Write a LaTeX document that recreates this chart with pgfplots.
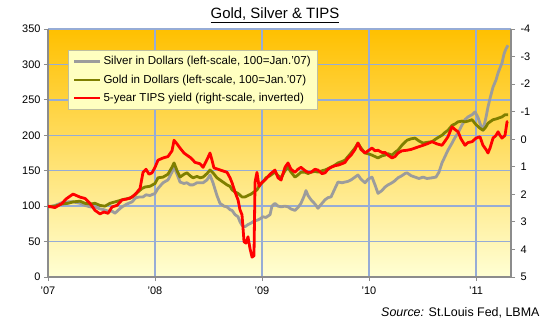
\documentclass[border=0pt]{standalone}
\usepackage{fontspec}
\setmainfont{Liberation Sans}
\usepackage{pgfplots}
\pgfplotsset{compat=1.18}
\definecolor{silv}{HTML}{9C9C9C}
\definecolor{gld}{HTML}{7F7F00}
\definecolor{tipsred}{HTML}{FF0000}
\definecolor{gridc}{HTML}{96ACD6}
\definecolor{axc}{HTML}{8C8C8C}
\definecolor{legf}{HTML}{FFFFC0}
\definecolor{bgtop}{HTML}{FFC000}
\definecolor{bgmid}{HTML}{F7EE00}
\definecolor{bgbot}{HTML}{FFFFD4}
\begin{document}
\begin{tikzpicture}
\path[use as bounding box] (-48bp,-48bp) rectangle (502bp,277bp);
\shade[top color=bgtop, middle color=bgmid, bottom color=bgbot] (0bp,0bp) rectangle (463bp,248bp);
\draw[gridc, line width=1.4bp] (107bp,0bp) -- (107bp,248bp) (214bp,0bp) -- (214bp,248bp) (321bp,0bp) -- (321bp,248bp) (428bp,0bp) -- (428bp,248bp);
\draw[gridc, line width=1.4bp] (0bp,35.43bp) -- (463bp,35.43bp) (0bp,70.86bp) -- (463bp,70.86bp) (0bp,106.29bp) -- (463bp,106.29bp) (0bp,141.71bp) -- (463bp,141.71bp) (0bp,177.14bp) -- (463bp,177.14bp) (0bp,212.57bp) -- (463bp,212.57bp) (0bp,248bp) -- (463bp,248bp);
\begin{axis}[
  at={(0,0)}, anchor=south west,
  scale only axis, width=463bp, height=248bp,
  xmin=0, xmax=4.327, ymin=0, ymax=350,
  xtick={0,1,2,3,4}, xticklabels={'07,'08,'09,'10,'11},
  ytick={0,50,...,350},
  axis x line*=bottom, axis y line*=left,
  axis line style={axc, line width=1.2bp, -},
  tick style={axc, line width=0.8bp},
  tick align=outside, major tick length=4bp,
  tick label style={font=\fontsize{11}{13}\selectfont},
  /pgf/number format/assume math mode=true,
  xticklabel style={yshift=-2bp},
  clip=true,
]
\addplot[silv, line width=2.8bp, line join=round] coordinates {
(0,99)(0.065,101)(0.131,105)(0.187,106)(0.234,106)(0.299,104)(0.346,101)(0.393,99)(0.439,99)(0.486,96)(0.523,95)(0.561,93)(0.598,93)(0.626,90)(0.654,94)(0.692,99)(0.738,103)(0.785,106)(0.822,112)(0.860,113)(0.888,113)(0.916,116)(0.953,115)
(1.000,118)(1.028,125)(1.075,133)(1.121,137)(1.159,148)(1.178,155)(1.206,145)(1.234,134)(1.271,132)(1.299,133)(1.327,130)(1.355,130)(1.393,133)(1.421,133)(1.449,133)(1.486,137)(1.514,144)(1.542,133)(1.579,115)(1.607,104)(1.645,100)(1.673,99)(1.701,95)(1.720,94)(1.748,88)(1.776,85)(1.794,78)(1.813,73)(1.841,71)(1.869,74)(1.897,76)(1.925,79)(1.953,80)(1.981,82)
(2.009,85)(2.037,84)(2.075,88)(2.093,100)(2.121,104)(2.150,100)(2.178,99)(2.215,100)(2.243,99)(2.271,96)(2.308,94)(2.336,98)(2.364,104)(2.393,114)(2.411,122)(2.430,115)(2.458,109)(2.495,103)(2.523,97)(2.561,104)(2.589,109)(2.617,112)(2.645,113)(2.682,125)(2.710,134)(2.748,133)(2.776,134)(2.804,135)(2.832,137)(2.869,141)(2.897,144)(2.925,138)(2.963,133)(2.991,138)
(3.028,141)(3.056,130)(3.084,118)(3.121,122)(3.150,127)(3.178,130)(3.215,133)(3.243,136)(3.271,140)(3.308,143)(3.336,146)(3.355,147)(3.393,143)(3.430,141)(3.467,139)(3.505,141)(3.542,139)(3.589,140)(3.626,141)(3.654,148)(3.682,161)(3.710,170)(3.738,179)(3.776,189)(3.804,197)(3.832,203)(3.860,212)(3.897,222)(3.925,226)(3.963,229)(3.991,233)
(4.019,225)(4.037,217)(4.065,207)(4.093,225)(4.112,240)(4.131,252)(4.159,268)(4.187,278)(4.206,288)(4.224,295)(4.243,302)(4.262,315)(4.280,322)(4.299,327)
};
\addplot[gld, line width=2.8bp, line join=round] coordinates {
(0,99)(0.065,100)(0.131,103)(0.187,104)(0.234,106)(0.299,107)(0.346,104)(0.393,103)(0.439,104)(0.486,101)(0.533,100)(0.579,104)(0.626,106)(0.673,108)(0.720,110)(0.766,111)(0.813,116)(0.841,120)(0.879,125)(0.907,127)(0.953,128)
(1.000,132)(1.028,140)(1.075,141)(1.121,145)(1.159,155)(1.178,161)(1.206,150)(1.234,141)(1.271,145)(1.299,147)(1.327,143)(1.355,140)(1.393,142)(1.421,140)(1.449,141)(1.486,146)(1.514,151)(1.542,147)(1.579,140)(1.607,137)(1.645,133)(1.673,130)(1.701,128)(1.720,123)(1.748,120)(1.776,118)(1.813,113)(1.841,113)(1.869,115)(1.897,117)(1.925,120)(1.953,123)(1.981,130)
(2.009,134)(2.037,140)(2.075,143)(2.121,148)(2.150,143)(2.178,140)(2.215,150)(2.243,155)(2.271,148)(2.308,141)(2.336,144)(2.364,148)(2.402,148)(2.430,146)(2.458,148)(2.495,149)(2.523,148)(2.561,150)(2.589,151)(2.617,153)(2.645,155)(2.682,158)(2.710,161)(2.748,163)(2.776,165)(2.804,170)(2.832,175)(2.869,182)(2.897,189)(2.925,182)(2.963,175)(2.991,174)
(3.028,172)(3.056,170)(3.084,168)(3.121,171)(3.150,172)(3.178,174)(3.215,172)(3.243,176)(3.271,179)(3.308,186)(3.355,193)(3.393,195)(3.430,196)(3.467,192)(3.505,189)(3.542,190)(3.589,191)(3.636,196)(3.682,200)(3.710,204)(3.738,207)(3.776,214)(3.804,216)(3.832,219)(3.869,220)(3.897,219)(3.925,220)(3.963,222)
(4.000,215)(4.037,210)(4.065,207)(4.093,212)(4.112,217)(4.131,219)(4.159,222)(4.187,223)(4.206,224)(4.243,226)(4.271,229)(4.299,229)
};
\end{axis}
\begin{axis}[
  at={(0,0)}, anchor=south west,
  scale only axis, width=463bp, height=248bp,
  xmin=0, xmax=4.327, ymin=-4, ymax=5, y dir=reverse,
  axis x line=none, axis y line*=right,
  axis line style={axc, line width=1.2bp, -},
  ytick={-4,-3,...,5},
  tick style={axc, line width=0.8bp},
  tick align=outside, major tick length=4bp,
  tick label style={font=\fontsize{11}{13}\selectfont},
  /pgf/number format/assume math mode=true,
  yticklabel style={xshift=2bp},
  legend style={at={(rel axis cs:0.043,0.915)}, anchor=north west, fill=legf, draw={rgb,255:red,190;green,190;blue,160}, line width=0.8bp, font=\fontsize{11.6}{13}\selectfont, inner xsep=5bp, inner ysep=4bp, row sep=4.5bp},
  legend cell align=left,
  legend image code/.code={\draw[#1, line width=2.2bp] (0bp,0bp) -- (26bp,0bp);},
  clip=true,
]
\addlegendimage{silv}
\addlegendentry{Silver in Dollars (left-scale, 100=Jan.'07)}
\addlegendimage{gld}
\addlegendentry{Gold in Dollars (left-scale, 100=Jan.'07)}
\addplot[tipsred, line width=2.8bp, line join=round] coordinates {
(0,2.43)(0.065,2.48)(0.131,2.33)(0.168,2.17)(0.234,1.99)(0.299,2.10)(0.346,2.15)(0.393,2.33)(0.439,2.58)(0.486,2.71)(0.523,2.64)(0.561,2.69)(0.598,2.46)(0.645,2.40)(0.692,2.20)(0.738,2.17)(0.785,2.10)(0.822,1.97)(0.860,1.79)(0.888,1.20)(0.916,1.09)(0.944,1.27)(0.972,1.22)
(1.000,1.02)(1.028,0.76)(1.075,0.68)(1.121,0.63)(1.159,0.42)(1.178,0.04)(1.206,0.17)(1.234,0.32)(1.271,0.50)(1.299,0.58)(1.336,0.68)(1.374,0.84)(1.421,0.89)(1.449,1.02)(1.477,0.81)(1.505,0.58)(1.514,0.50)(1.533,0.76)(1.551,1.04)(1.589,1.09)(1.626,1.14)(1.673,1.20)(1.701,1.40)(1.720,1.58)(1.748,1.92)(1.776,2.20)(1.794,2.56)(1.813,2.74)(1.822,3.20)(1.832,3.72)(1.850,3.77)(1.869,3.54)(1.888,3.97)(1.907,4.28)(1.925,4.23)(1.935,1.56)(1.953,1.20)(1.972,1.71)
(2.000,1.56)(2.028,1.48)(2.075,1.27)(2.121,1.12)(2.150,1.40)(2.178,1.48)(2.215,1.02)(2.243,0.86)(2.271,1.09)(2.308,1.20)(2.336,1.09)(2.364,1.02)(2.402,1.14)(2.430,1.20)(2.458,1.20)(2.495,1.09)(2.523,1.12)(2.561,1.25)(2.589,1.22)(2.617,1.09)(2.645,1.02)(2.682,0.96)(2.710,0.94)(2.748,0.89)(2.776,0.84)(2.804,0.68)(2.832,0.58)(2.869,0.37)(2.897,0.14)(2.925,0.37)(2.963,0.50)(2.991,0.42)
(3.028,0.32)(3.056,0.42)(3.084,0.40)(3.121,0.48)(3.150,0.48)(3.178,0.58)(3.215,0.68)(3.243,0.63)(3.271,0.50)(3.308,0.42)(3.355,0.40)(3.393,0.37)(3.430,0.32)(3.467,0.27)(3.505,0.22)(3.542,0.17)(3.589,0.09)(3.636,0.17)(3.682,0.22)(3.710,0.07)(3.738,-0.09)(3.776,-0.45)(3.804,-0.35)(3.832,-0.27)(3.860,-0.01)(3.897,0.22)(3.925,0.12)(3.963,0.09)
(4.000,-0.04)(4.037,-0.09)(4.065,0.22)(4.093,0.37)(4.112,0.50)(4.131,0.32)(4.159,-0.04)(4.187,-0.14)(4.206,-0.27)(4.224,-0.14)(4.243,-0.04)(4.271,-0.14)(4.290,-0.63)(4.299,-0.65)
};
\addlegendentry{5-year TIPS yield (right-scale, inverted)}
\end{axis}
\node[font=\fontsize{15}{17}\selectfont, anchor=base] at (227bp,258bp) {\underline{Gold, Silver \& TIPS}};
\node[font=\fontsize{12.5}{14}\selectfont, anchor=base east] at (495bp,-39bp) {\textit{Source:} St.Louis Fed, LBMA};
\end{tikzpicture}
\end{document}
